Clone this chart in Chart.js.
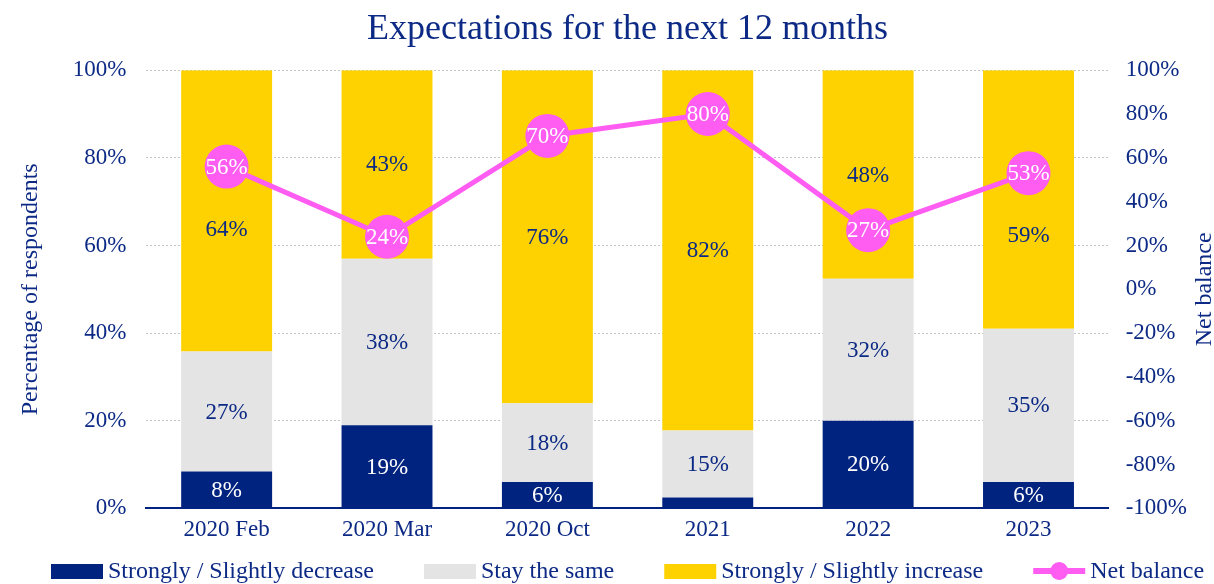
<!DOCTYPE html>
<html>
<head>
<meta charset="utf-8">
<script src="https://cdn.jsdelivr.net/npm/chart.js@4.4.1/dist/chart.umd.min.js"></script>
<style>
  html, body { margin: 0; padding: 0; background: #fff; }
  #wrap { width: 1214px; height: 584px; }
</style>
</head>
<body>
<div id="wrap"><canvas id="chart"></canvas></div>
<script>
var categories = ['2020 Feb', '2020 Mar', '2020 Oct', '2021', '2022', '2023'];
var decrease = [8.4, 19, 6, 2.5, 20, 6]; // strongly / slightly decrease
var stay = [27.4, 38, 18, 15.3, 32.4, 35];
var increase = [64.2, 43, 76, 82.2, 47.6, 59];
var netBalance = [56, 24, 70, 80, 27, 53];
var seriesNames = ['Strongly / Slightly decrease', 'Stay the same', 'Strongly / Slightly increase', 'Net balance'];

var NAVY = '#00237f';
var TEXT = '#0c2a85';
var GREY = '#e4e4e4';
var YELLOW = '#fdd200';
var PINK = '#ff5cf2';
var FONT = '"Liberation Serif", "Times New Roman", serif';
var FS = 23;  // ticks and value labels
var FS_BIG = 24; // legend and axis titles

// value labels on the bars and inside the net balance points
var valueLabels = {
  id: 'valueLabels',
  afterDatasetsDraw: function(chart){
    var ctx = chart.ctx;
    var lineMeta = chart.getDatasetMeta(3);
    ctx.save();
    ctx.font = FS + 'px ' + FONT;
    ctx.textAlign = 'center';
    ctx.textBaseline = 'middle';
    for (let di = 0; di < 3; di++){
      let meta = chart.getDatasetMeta(di);
      let vals = chart.data.datasets[di].data;
      meta.data.forEach(function(bar, i){
        if (vals[i] < 4) return; // too thin for a label
        let y = (bar.y + bar.base) / 2;
        let py = lineMeta.data[i].y;
        if (di == 2 && Math.abs(y - py) < 50) y = py + 62; //move out of the way of the point
        ctx.fillStyle = di == 0 ? '#ffffff' : TEXT;
        ctx.fillText(Math.round(vals[i]) + '%', bar.x, y + 1);
      });
    }
    ctx.fillStyle = '#ffffff';
    lineMeta.data.forEach(function(pt, i){
      ctx.fillText(netBalance[i] + '%', pt.x, pt.y + 1);
    });
    ctx.restore();
  }
};

// legend along the bottom + right axis title (reads bottom to top)
var extras = {
  id: 'extras',
  afterDraw: function(chart){
    var ctx = chart.ctx;
    var sets = chart.data.datasets;
    var area = chart.chartArea;
    ctx.save();
    ctx.font = FS_BIG + 'px ' + FONT;
    ctx.textBaseline = 'middle';
    ctx.textAlign = 'left';
    var boxW = 52, gapText = 5, gapItem = 50;
    var widths = sets.map(function(d){ return boxW + gapText + ctx.measureText(d.label).width; });
    var total = widths.reduce(function(a, b){ return a + b; }, 0) + gapItem * (sets.length - 1);
    var x = (area.left + area.right) / 2 - total / 2;
    var y = chart.height - 13;
    sets.forEach(function(d, i){
      if (d.type == 'line'){
        ctx.strokeStyle = d.borderColor;
        ctx.lineWidth = 6;
        ctx.beginPath();
        ctx.moveTo(x, y);
        ctx.lineTo(x + boxW, y);
        ctx.stroke();
        ctx.fillStyle = d.borderColor;
        ctx.beginPath();
        ctx.arc(x + boxW / 2, y, 9, 0, Math.PI * 2);
        ctx.fill();
      }
      else{
        ctx.fillStyle = d.backgroundColor;
        ctx.fillRect(x, y - 7, boxW, 15);
      }
      ctx.fillStyle = TEXT;
      ctx.fillText(d.label, x + boxW + gapText, y + 1);
      x += widths[i] + gapItem;
    });

    ctx.translate(chart.width - 9, (area.top + area.bottom) / 2);
    ctx.rotate(-Math.PI / 2);
    ctx.textAlign = 'center';
    ctx.fillText('Net balance', 0, 0);
    ctx.restore();
  }
};

var pct = function(v){ return v + '%'; };

var chart = new Chart(document.getElementById('chart'), {
  data: {
    labels: categories,
    datasets: [
      { type: 'bar', label: seriesNames[0], data: decrease, backgroundColor: NAVY, yAxisID: 'y', order: 1 },
      { type: 'bar', label: seriesNames[1], data: stay, backgroundColor: GREY, yAxisID: 'y', order: 1 },
      { type: 'bar', label: seriesNames[2], data: increase, backgroundColor: YELLOW, yAxisID: 'y', order: 1 },
      { type: 'line', label: seriesNames[3], data: netBalance, borderColor: PINK, backgroundColor: PINK,
        borderWidth: 5, pointRadius: 22, pointHoverRadius: 22, pointBorderWidth: 0,
        pointBackgroundColor: PINK, yAxisID: 'y1', order: 0 }
    ]
  },
  options: {
    responsive: true,
    maintainAspectRatio: false,
    animation: false,
    datasets: { bar: { barPercentage: 0.567, categoryPercentage: 1 } },
    layout: { padding: { left: 12, right: 10, top: 0, bottom: 40 } },
    plugins: {
      legend: { display: false },
      tooltip: { enabled: false },
      title: {
        display: true,
        fullSize: false,
        text: 'Expectations for the next 12 months',
        color: TEXT,
        font: { family: FONT, size: 36, weight: 'normal' },
        padding: { top: 8, bottom: 19 }
      }
    },
    scales: {
      x: {
        stacked: true,
        grid: { display: false },
        border: { display: true, color: NAVY, width: 2 },
        ticks: { color: TEXT, font: { family: FONT, size: FS }, padding: 0 }
      },
      y: {
        stacked: true,
        min: 0, max: 100,
        position: 'left',
        border: { display: false, dash: [2, 2] },
        grid: { color: '#c4c4c4', lineWidth: 1, drawTicks: false },
        ticks: { stepSize: 20, color: TEXT, font: { family: FONT, size: FS }, padding: 20, callback: pct },
        title: { display: true, text: 'Percentage of respondents', color: TEXT,
                 font: { family: FONT, size: FS_BIG }, padding: { top: 4, bottom: 8 } }
      },
      y1: {
        min: -100, max: 100,
        position: 'right',
        border: { display: false },
        grid: { display: false, drawTicks: false },
        ticks: { stepSize: 20, color: TEXT, font: { family: FONT, size: FS }, padding: 17, callback: pct }
      }
    }
  },
  plugins: [valueLabels, extras]
});
</script>
</body>
</html>
